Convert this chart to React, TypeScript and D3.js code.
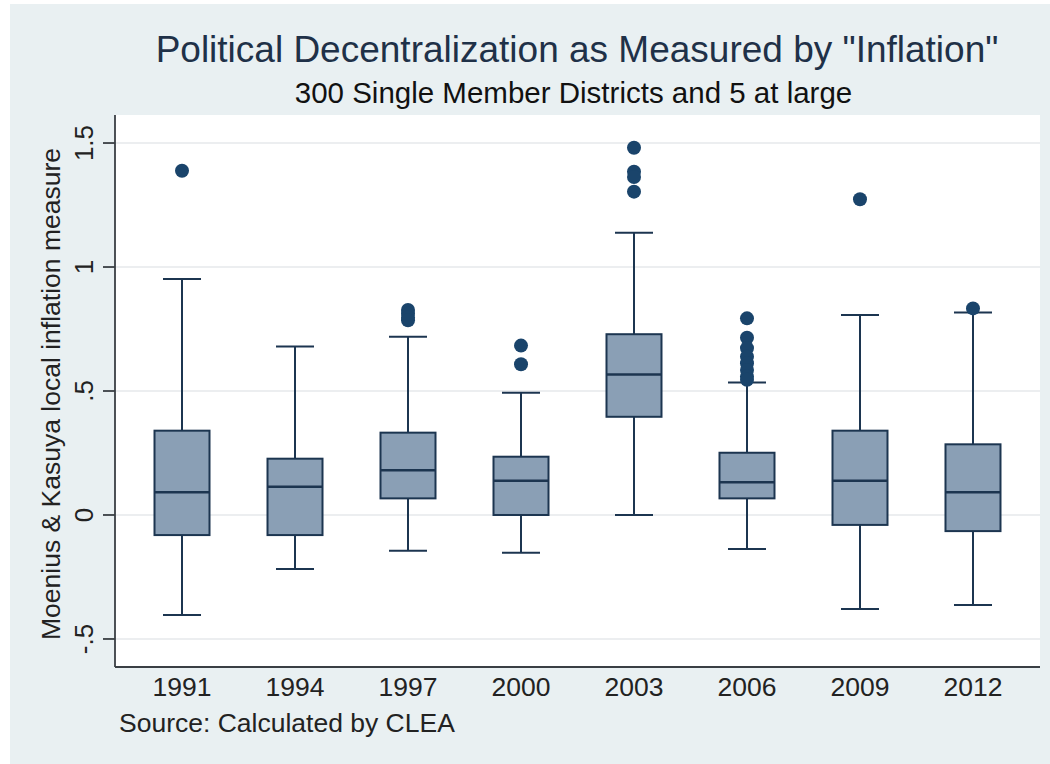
import React from "react";
import * as d3 from "d3";

const years = ["1991", "1994", "1997", "2000", "2003", "2006", "2009", "2012"];
const lowerWhisker = [-0.403, -0.218, -0.144, -0.152, 0.0, -0.137, -0.379, -0.363];
const q1 = [-0.081, -0.081, 0.067, 0.0, 0.396, 0.067, -0.04, -0.065];
const median = [0.092, 0.114, 0.18, 0.138, 0.567, 0.132, 0.138, 0.092];
const q3 = [0.34, 0.227, 0.332, 0.235, 0.729, 0.251, 0.34, 0.285];
const upperWhisker = [0.952, 0.679, 0.719, 0.493, 1.138, 0.534, 0.806, 0.817];
const outliers: number[][] = [
  [1.388],
  [],
  [0.827, 0.812, 0.796, 0.785],
  [0.683, 0.608],
  [1.481, 1.384, 1.363, 1.304],
  [0.793, 0.715, 0.673, 0.638, 0.612, 0.585, 0.558, 0.545],
  [1.273],
  [0.833],
];
const yTicks = [-0.5, 0, 0.5, 1, 1.5];
const yTickLabels = ["-.5", "0", ".5", "1", "1.5"];

const W = 1050;
const H = 764;
const FONT = "'Liberation Sans', Arial, Helvetica, sans-serif";

const plot = { left: 115, right: 1040, top: 115, bottom: 667 };

export default function App() {
  const x = d3
    .scalePoint<string>()
    .domain(years)
    .range([plot.left, plot.right])
    .padding(0.593);

  const y = d3
    .scaleLinear()
    .domain([-0.613, 1.613])
    .range([plot.bottom, plot.top]);

  const boxW = 55;
  const capW = 38;
  const lineColor = "#1c3550";
  const boxFill = "#8a9fb5";
  const dotColor = "#1a446b";

  return (
    <svg width={W} height={H} style={{ display: "block", position: "absolute", left: 0, top: 0 }}>
      <rect x={0} y={0} width={W} height={H} fill="#ffffff" />
      <rect x={10} y={4} width={W - 10} height={H - 4} fill="#e9f0f2" />
      {/* plot region */}
      <rect
        x={plot.left}
        y={plot.top}
        width={plot.right - plot.left}
        height={plot.bottom - plot.top}
        fill="#ffffff"
      />
      {/* gridlines */}
      {yTicks.map((t) => (
        <line
          key={"g" + t}
          x1={plot.left}
          x2={plot.right}
          y1={y(t)}
          y2={y(t)}
          stroke="#e6e9eb"
          strokeWidth={1.5}
        />
      ))}

      {/* boxes */}
      {years.map((yr, i) => {
        const cx = x(yr) as number;
        return (
          <g key={yr}>
            <line x1={cx} x2={cx} y1={y(upperWhisker[i])} y2={y(q3[i])} stroke={lineColor} strokeWidth={2} />
            <line x1={cx} x2={cx} y1={y(q1[i])} y2={y(lowerWhisker[i])} stroke={lineColor} strokeWidth={2} />
            <line
              x1={cx - capW / 2}
              x2={cx + capW / 2}
              y1={y(upperWhisker[i])}
              y2={y(upperWhisker[i])}
              stroke={lineColor}
              strokeWidth={2}
            />
            <line
              x1={cx - capW / 2}
              x2={cx + capW / 2}
              y1={y(lowerWhisker[i])}
              y2={y(lowerWhisker[i])}
              stroke={lineColor}
              strokeWidth={2}
            />
            <rect
              x={cx - boxW / 2}
              y={y(q3[i])}
              width={boxW}
              height={y(q1[i]) - y(q3[i])}
              fill={boxFill}
              stroke={lineColor}
              strokeWidth={2}
            />
            <line
              x1={cx - boxW / 2}
              x2={cx + boxW / 2}
              y1={y(median[i])}
              y2={y(median[i])}
              stroke={lineColor}
              strokeWidth={2.5}
            />
            {outliers[i].map((v, j) => (
              <circle key={j} cx={cx} cy={y(v)} r={7} fill={dotColor} />
            ))}
          </g>
        );
      })}

      {/* axes */}
      <line x1={plot.left} x2={plot.left} y1={plot.top} y2={plot.bottom} stroke="#3a3f44" strokeWidth={1.8} />
      <line x1={plot.left} x2={plot.right} y1={plot.bottom} y2={plot.bottom} stroke="#3a3f44" strokeWidth={1.8} />
      {yTicks.map((t, i) => (
        <g key={"t" + t}>
          <line x1={plot.left - 12} x2={plot.left} y1={y(t)} y2={y(t)} stroke="#3a3f44" strokeWidth={1.8} />
          <text
            transform={`translate(93,${y(t)}) rotate(-90)`}
            textAnchor="middle"
            fontFamily={FONT}
            fontSize={26}
            fill="#222"
          >
            {yTickLabels[i]}
          </text>
        </g>
      ))}
      {years.map((yr) => (
        <text
          key={"x" + yr}
          x={x(yr) as number}
          y={696}
          textAnchor="middle"
          fontFamily={FONT}
          fontSize={26.5}
          fill="#222"
        >
          {yr}
        </text>
      ))}

      {/* axis title */}
      <text
        transform={`translate(60,394) rotate(-90)`}
        textAnchor="middle"
        fontFamily={FONT}
        fontSize={26.5}
        fill="#222"
      >
        Moenius &amp; Kasuya local inflation measure
      </text>

      {/* titles */}
      <text x={577} y={62} textAnchor="middle" fontFamily={FONT} fontSize={37} fill="#1f3148">
        Political Decentralization as Measured by "Inflation"
      </text>
      <text x={573.5} y={103} textAnchor="middle" fontFamily={FONT} fontSize={29.5} fill="#111">
        300 Single Member Districts and 5 at large
      </text>
      <text x={119} y={732} fontFamily={FONT} fontSize={26.5} fill="#222">
        Source: Calculated by CLEA
      </text>
    </svg>
  );
}
